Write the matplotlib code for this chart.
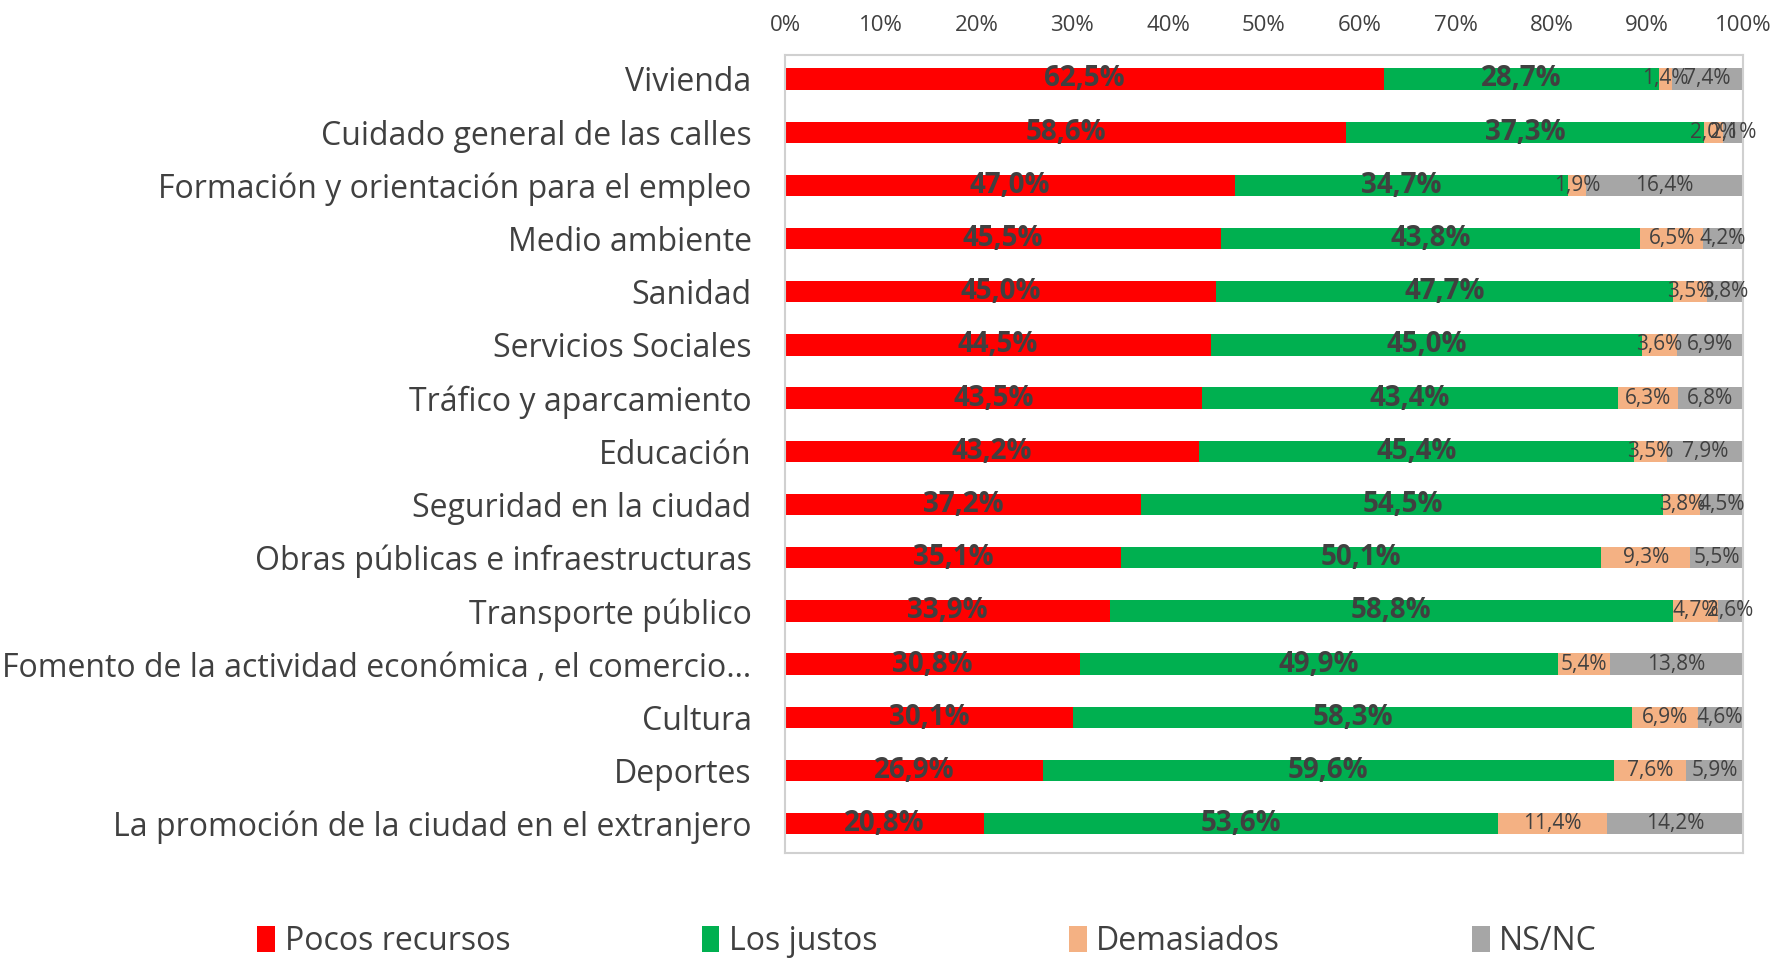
import matplotlib.pyplot as plt
import numpy as np

# datos
categorias = [
    "Vivienda",
    "Cuidado general de las calles",
    "Formación y orientación para el empleo",
    "Medio ambiente",
    "Sanidad",
    "Servicios Sociales",
    "Tráfico y aparcamiento",
    "Educación",
    "Seguridad en la ciudad",
    "Obras públicas e infraestructuras",
    "Transporte público",
    "Fomento de la actividad económica , el comercio…",
    "Cultura",
    "Deportes",
    "La promoción de la ciudad en el extranjero",
]
pocos = [62.5, 58.6, 47.0, 45.5, 45.0, 44.5, 43.5, 43.2, 37.2, 35.1, 33.9, 30.8, 30.1, 26.9, 20.8]
justos = [28.7, 37.3, 34.7, 43.8, 47.7, 45.0, 43.4, 45.4, 54.5, 50.1, 58.8, 49.9, 58.3, 59.6, 53.6]
demasiados = [1.4, 2.0, 1.9, 6.5, 3.5, 3.6, 6.3, 3.5, 3.8, 9.3, 4.7, 5.4, 6.9, 7.6, 11.4]
nsnc = [7.4, 2.1, 16.4, 4.2, 3.8, 6.9, 6.8, 7.9, 4.5, 5.5, 2.6, 13.8, 4.6, 5.9, 14.2]
series = ["Pocos recursos", "Los justos", "Demasiados", "NS/NC"]
colores = ["#ff0000", "#00b050", "#f4b183", "#a6a6a6"]
ticks = [0, 10, 20, 30, 40, 50, 60, 70, 80, 90, 100]

plt.rcParams["font.family"] = ["Open Sans", "DejaVu Sans"]
txt = "#404040"

fig = plt.figure(figsize=(17.83, 9.58), dpi=100)
ax = fig.add_axes([785 / 1783, 1 - 853 / 958, (1743 - 785) / 1783, (853 - 55) / 958])

y = np.arange(len(categorias))
left = np.zeros(len(categorias))
valores = [pocos, justos, demasiados, nsnc]
for i, (vals, nombre, col) in enumerate(zip(valores, series, colores)):
    vals = np.array(vals)
    ax.barh(y, vals, left=left, height=0.4, color=col, label=nombre)
    for yi, l, v in zip(y, left, vals):
        etiqueta = f"{v:.1f}%".replace(".", ",")
        if i < 2:
            ax.text(l + v / 2, yi, etiqueta, ha="center", va="center",
                    fontsize=20, fontweight="bold", color=txt)
        else:
            ax.text(l + v / 2, yi, etiqueta, ha="center", va="center",
                    fontsize=15, color=txt)
    left = left + vals

ax.set_xlim(0, 100)
ax.set_ylim(len(categorias) - 0.45, -0.45)
ax.set_yticks(y)
ax.set_yticklabels(categorias, fontsize=23, color=txt)
ax.set_xticks(ticks)
ax.set_xticklabels([f"{t}%" for t in ticks], fontsize=16, color=txt)
ax.xaxis.tick_top()
ax.tick_params(axis="both", length=0)
ax.tick_params(axis="y", pad=24)
ax.tick_params(axis="x", pad=14)
for s in ax.spines.values():
    s.set_color("#d0d0d0")
    s.set_linewidth(1.5)

fig.legend(loc="lower center", ncol=4, frameon=False, fontsize=23,
           bbox_to_anchor=(0.52, -0.03), handlelength=0.55, handleheight=0.9,
           handletextpad=0.3, columnspacing=6.0, labelcolor=txt)

fig.savefig("out.png", dpi=100)
